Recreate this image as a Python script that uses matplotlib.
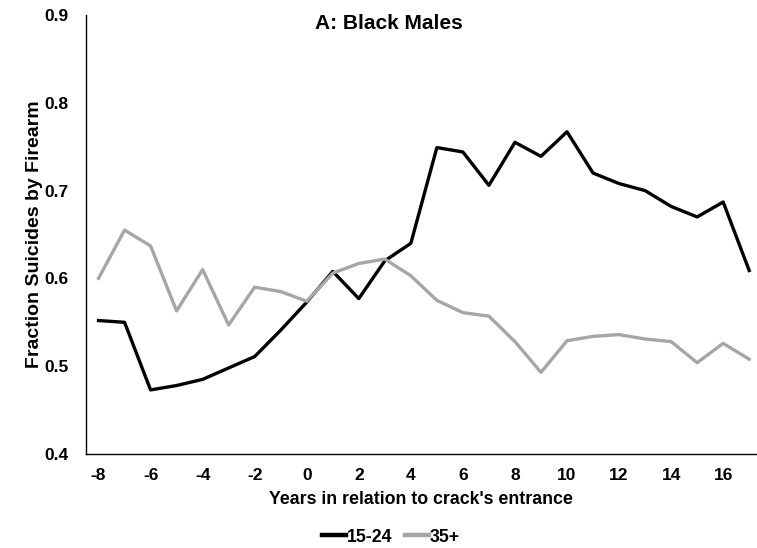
import matplotlib
matplotlib.use("Agg")
import matplotlib.pyplot as plt
from matplotlib.ticker import MultipleLocator, FormatStrFormatter

years = list(range(-8, 18))
young_15_24 = [0.552, 0.550, 0.473, 0.478, 0.485, 0.498, 0.511, 0.541, 0.573, 0.608,
               0.577, 0.620, 0.640, 0.749, 0.744, 0.706, 0.755, 0.739, 0.767, 0.720,
               0.708, 0.700, 0.682, 0.670, 0.687, 0.609]
old_35_plus = [0.600, 0.655, 0.637, 0.563, 0.610, 0.547, 0.590, 0.585, 0.574, 0.606,
               0.617, 0.622, 0.603, 0.575, 0.561, 0.557, 0.528, 0.493, 0.529, 0.534,
               0.536, 0.531, 0.528, 0.504, 0.526, 0.508]
xticks = list(range(-8, 18, 2))
title = "A: Black Males"

plt.rcParams['font.family'] = ['Liberation Sans', 'DejaVu Sans']
plt.rcParams['font.weight'] = 'bold'
plt.rcParams['axes.unicode_minus'] = False

fig = plt.figure(figsize=(7.57, 5.48), dpi=100)
ax = fig.add_axes([85.5/757, 1-454/548, 1-85.5/757, (454-15)/548])

ax.plot(years, young_15_24, color='black', lw=2.4, label='15-24')
ax.plot(years, old_35_plus, color='#a6a6a6', lw=2.4, label='35+')

ax.set_xlim(-8.5, 17.3)
ax.set_ylim(0.4, 0.9)
ax.set_xticks(xticks)
ax.yaxis.set_major_locator(MultipleLocator(0.1))
ax.yaxis.set_major_formatter(FormatStrFormatter('%.1f'))
ax.tick_params(axis='y', length=0, labelsize=12.5, pad=12)
ax.tick_params(axis='x', length=0, labelsize=12.5, pad=10)
for lbl in ax.get_xticklabels() + ax.get_yticklabels():
    lbl.set_fontweight('bold')
for s in ['top', 'right']:
    ax.spines[s].set_visible(False)
for s in ['left', 'bottom']:
    ax.spines[s].set_linewidth(1.0)

ax.set_xlabel("Years in relation to crack's entrance", fontsize=12.8, fontweight='bold', labelpad=6)
ax.set_ylabel("Fraction Suicides by Firearm", fontsize=14, fontweight='bold', labelpad=1)
fig.text(389/757, 1-14/548, title, ha='center', va='top', fontsize=15, fontweight='bold')

leg = fig.legend(loc='center', bbox_to_anchor=(391/757, 1-537/548), ncol=2, frameon=False,
                 fontsize=12.8, handlelength=1.35, handletextpad=0.05, columnspacing=0.7,
                 borderpad=0)
for t in leg.get_texts():
    t.set_fontweight('bold')
for h in leg.get_lines():
    h.set_linewidth(3.2)

fig.savefig('out.png', dpi=100)
